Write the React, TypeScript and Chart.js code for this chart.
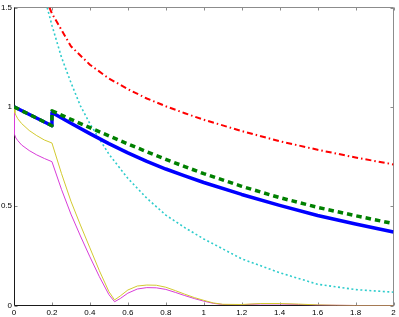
import React, { useEffect, useRef } from 'react';
import { Chart, registerables } from 'chart.js';

Chart.register(...registerables);

// Blue solid curve
const blueX = [0, 0.2, 0.2, 0.3, 0.4, 0.5, 0.6, 0.7, 0.8, 0.9, 1.0, 1.2, 1.4, 1.6, 1.8, 2.0];
const blueY = [1.0, 0.905, 0.972, 0.917, 0.865, 0.815, 0.768, 0.725, 0.687, 0.652, 0.619, 0.559, 0.504, 0.453, 0.41, 0.37];

// Green dashed curve
const greenX = [0, 0.2, 0.2, 0.3, 0.4, 0.5, 0.6, 0.7, 0.8, 0.9, 1.0, 1.2, 1.4, 1.6, 1.8, 2.0];
const greenY = [1.0, 0.905, 0.98, 0.937, 0.895, 0.854, 0.813, 0.774, 0.736, 0.699, 0.664, 0.6, 0.543, 0.494, 0.452, 0.412];

// Red dash-dot curve
const redX = [0.187, 0.2, 0.3, 0.4, 0.5, 0.6, 0.7, 0.8, 0.9, 1.0, 1.2, 1.4, 1.6, 1.8, 2.0];
const redY = [1.5, 1.47, 1.305, 1.212, 1.143, 1.089, 1.042, 1.003, 0.968, 0.935, 0.878, 0.827, 0.784, 0.745, 0.71];

// Cyan dotted curve
const cyanX = [0.175, 0.2, 0.25, 0.3, 0.35, 0.4, 0.5, 0.6, 0.7, 0.8, 0.9, 1.0, 1.2, 1.4, 1.6, 1.8, 2.0];
const cyanY = [1.5, 1.41, 1.25, 1.122, 1.005, 0.915, 0.762, 0.64, 0.54, 0.455, 0.392, 0.335, 0.235, 0.165, 0.107, 0.08, 0.067];

// Yellow thin curve
const yellowX = [0, 0.005, 0.01, 0.02, 0.04, 0.08, 0.12, 0.16, 0.2, 0.25, 0.3, 0.35, 0.4, 0.45, 0.5, 0.53, 0.56, 0.6, 0.65, 0.7, 0.75, 0.8, 0.85, 0.9, 0.95, 1.0, 1.05, 1.1, 1.2, 1.3, 1.4, 1.5, 1.6, 1.7, 1.8, 2.0];
const yellowY = [1.0, 0.97, 0.958, 0.94, 0.916, 0.881, 0.855, 0.833, 0.818, 0.665, 0.525, 0.405, 0.29, 0.175, 0.07, 0.028, 0.048, 0.078, 0.098, 0.103, 0.102, 0.092, 0.075, 0.057, 0.04, 0.026, 0.013, 0.006, 0.005, 0.01, 0.01, 0.007, 0.003, 0.001, 0, 0];

// Magenta thin curve
const magentaX = [0, 0.002, 0.01, 0.02, 0.04, 0.08, 0.12, 0.16, 0.2, 0.25, 0.3, 0.35, 0.4, 0.45, 0.5, 0.53, 0.56, 0.6, 0.65, 0.7, 0.75, 0.8, 0.85, 0.9, 0.95, 1.0, 1.05, 1.1, 1.2, 1.3, 1.4, 1.5, 1.6, 1.7, 1.8, 2.0];
const magentaY = [0.98, 0.862, 0.843, 0.83, 0.808, 0.78, 0.758, 0.74, 0.724, 0.585, 0.46, 0.35, 0.245, 0.145, 0.055, 0.019, 0.035, 0.062, 0.083, 0.09, 0.089, 0.081, 0.066, 0.05, 0.035, 0.022, 0.011, 0.005, 0.004, 0.008, 0.008, 0.005, 0.002, 0.001, 0, 0];

// Axis ranges / ticks
const xRange = [0, 2];
const xStep = 0.2;
const yRange = [0, 1.5];
const yStep = 0.5;

const pts = (xs: number[], ys: number[]) => xs.map((x, i) => ({ x, y: ys[i] }));
const fmt = (v: number) => String(Math.round(v * 10) / 10);

const boxPlugin = {
  id: 'matlabBox',
  beforeDatasetsDraw(chart: any) {
    const { ctx, chartArea, scales } = chart;
    const { left, right, top, bottom } = chartArea;
    const xs = scales.x;
    const ys = scales.y;
    const L = Math.round(left) + 0.5;
    const R = Math.round(right) - 0.5;
    const T = Math.round(top) - 0.5;
    const B = Math.round(bottom) - 0.5;
    ctx.save();
    ctx.lineWidth = 1;
    ctx.strokeStyle = '#8c8c8c';
    ctx.beginPath();
    for (const t of xs.ticks) {
      const px = Math.round(xs.getPixelForValue(t.value)) + 0.5;
      ctx.moveTo(px, B);
      ctx.lineTo(px, B - 3);
      ctx.moveTo(px, T);
      ctx.lineTo(px, T + 3);
    }
    for (const t of ys.ticks) {
      const py = Math.round(ys.getPixelForValue(t.value)) + 0.5;
      ctx.moveTo(L, py);
      ctx.lineTo(L + 3, py);
      ctx.moveTo(R, py);
      ctx.lineTo(R - 3, py);
    }
    ctx.stroke();
    // top & right (gray)
    ctx.strokeStyle = '#8c8c8c';
    ctx.beginPath();
    ctx.moveTo(L, T);
    ctx.lineTo(R, T);
    ctx.lineTo(R, B);
    ctx.stroke();
    // left & bottom (dark)
    ctx.strokeStyle = '#1a1a1a';
    ctx.beginPath();
    ctx.moveTo(L, T);
    ctx.lineTo(L, B);
    ctx.lineTo(R, B);
    ctx.stroke();
    ctx.restore();
  },
};

export default function App() {
  const ref = useRef<HTMLCanvasElement | null>(null);

  useEffect(() => {
    if (!ref.current) return;
    const base = {
      pointRadius: 0,
      tension: 0,
      fill: false,
      borderCapStyle: 'butt' as const,
      borderJoinStyle: 'round' as const,
    };
    const chart = new Chart(ref.current, {
      type: 'line',
      data: {
        datasets: [
          { ...base, data: pts(greenX, greenY), borderColor: '#008000', borderWidth: 3.5, borderDash: [5.5, 4] },
          { ...base, data: pts(blueX, blueY), borderColor: '#0000ff', borderWidth: 3.5 },
          { ...base, data: pts(redX, redY), borderColor: '#ff0000', borderWidth: 2, borderDash: [6, 3, 1.5, 3] },
          { ...base, data: pts(cyanX, cyanY), borderColor: '#2ecccc', borderWidth: 1.6, borderDash: [2, 2.5] },
          { ...base, data: pts(yellowX, yellowY), borderColor: '#d2ca30', borderWidth: 1 },
          { ...base, data: pts(magentaX, magentaY), borderColor: '#d83cd8', borderWidth: 1 },
        ],
      },
      options: {
        animation: false,
        responsive: false,
        devicePixelRatio: 1,
        events: [],
        layout: { padding: { top: 7.5, right: 5.5, left: 0, bottom: 0 } },
        plugins: { legend: { display: false }, tooltip: { enabled: false } },
        scales: {
          x: {
            type: 'linear',
            min: xRange[0],
            max: xRange[1],
            grid: { display: false, drawTicks: false },
            border: { display: false },
            afterFit: (s: any) => { s.height = 11.5; },
            ticks: {
              stepSize: xStep,
              autoSkip: false,
              maxRotation: 0,
              padding: 2,
              color: '#000',
              font: { family: 'Liberation Sans', size: 8 },
              callback: (v: any) => fmt(Number(v)),
            },
          },
          y: {
            type: 'linear',
            min: yRange[0],
            max: yRange[1],
            grid: { display: false, drawTicks: false },
            border: { display: false },
            afterFit: (s: any) => { s.width = 14; },
            ticks: {
              stepSize: yStep,
              padding: 2,
              color: '#000',
              font: { family: 'Liberation Sans', size: 8 },
              callback: (v: any) => fmt(Number(v)),
            },
          },
        },
      },
      plugins: [boxPlugin],
    });
    return () => chart.destroy();
  }, []);

  return (
    <div style={{ position: 'absolute', left: 0, top: 0, width: 399, height: 317, background: '#fff' }}>
      <canvas ref={ref} width={399} height={317} style={{ display: 'block', width: 399, height: 317 }} />
    </div>
  );
}
